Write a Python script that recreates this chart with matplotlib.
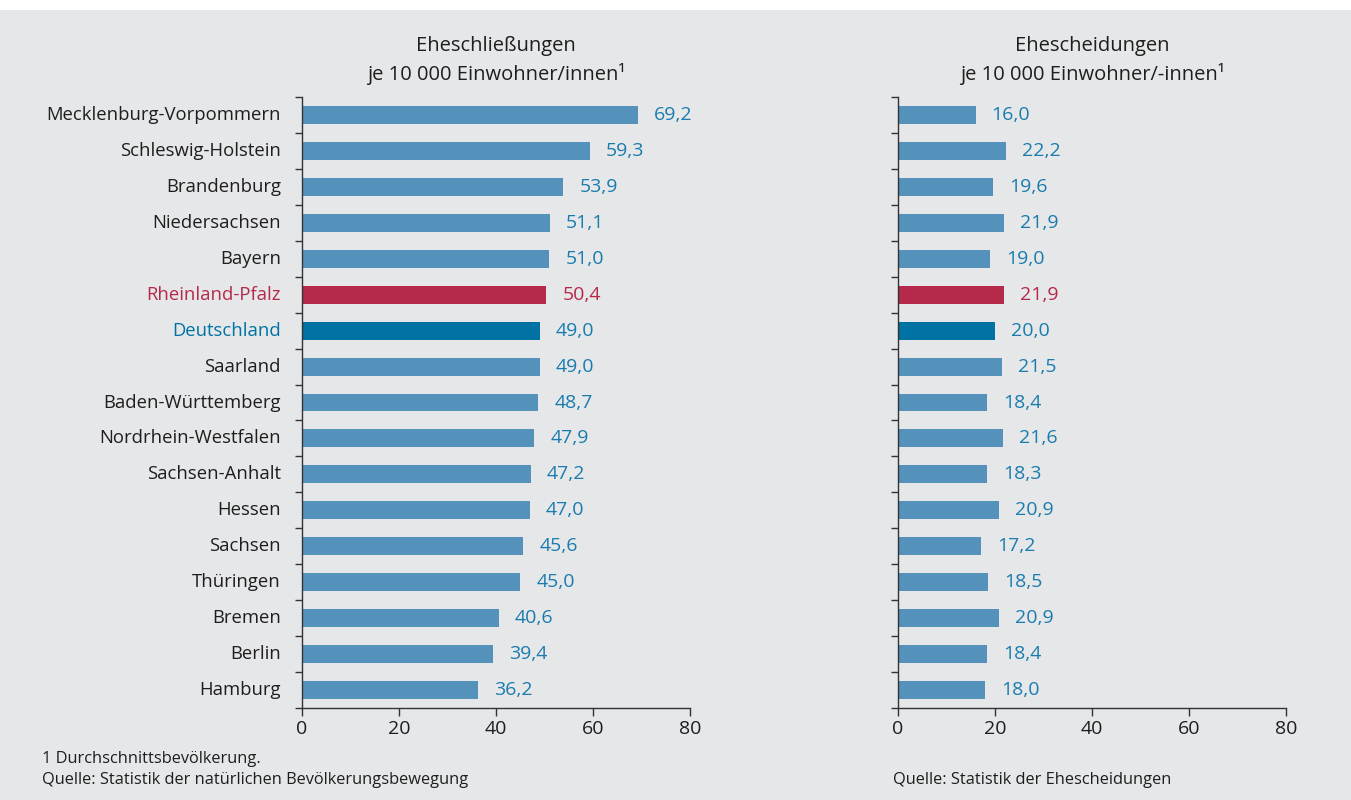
import matplotlib
matplotlib.use("Agg")
import matplotlib.pyplot as plt
from matplotlib.patches import Rectangle
import numpy as np

plt.rcParams['font.family'] = ['Open Sans', 'DejaVu Sans']

categories = ["Mecklenburg-Vorpommern", "Schleswig-Holstein", "Brandenburg", "Niedersachsen",
              "Bayern", "Rheinland-Pfalz", "Deutschland", "Saarland", "Baden-Württemberg",
              "Nordrhein-Westfalen", "Sachsen-Anhalt", "Hessen", "Sachsen", "Thüringen",
              "Bremen", "Berlin", "Hamburg"]
marriages = [69.2, 59.3, 53.9, 51.1, 51.0, 50.4, 49.0, 49.0, 48.7, 47.9, 47.2, 47.0,
             45.6, 45.0, 40.6, 39.4, 36.2]
divorces = [16.0, 22.2, 19.6, 21.9, 19.0, 21.9, 20.0, 21.5, 18.4, 21.6, 18.3, 20.9,
            17.2, 18.5, 20.9, 18.4, 18.0]
xticks = [0, 20, 40, 60, 80]
title_left = "Eheschließungen\nje 10 000 Einwohner/innen¹"
title_right = "Ehescheidungen\nje 10 000 Einwohner/-innen¹"

BG = "#e6e7e9"
BAR = "#5592bb"
RED = "#b5294a"
DE = "#0072a3"
LBL = "#1a7cae"
TXT = "#1e1e1e"

def color_for(c):
    if c == "Rheinland-Pfalz":
        return RED
    if c == "Deutschland":
        return DE
    return BAR

def label_color(c):
    if c == "Rheinland-Pfalz":
        return RED
    return LBL

fig = plt.figure(figsize=(13.51, 8.0), dpi=100, facecolor=BG)
fig.patches.append(Rectangle((0, 1 - 10/800), 1, 10/800, transform=fig.transFigure,
                             facecolor="white", edgecolor="none", zorder=0))

ax_bottom = 1 - 708/800
ax_h = (708 - 97) / 800
axL = fig.add_axes([302/1351, ax_bottom, 388/1351, ax_h])
axR = fig.add_axes([898/1351, ax_bottom, 388/1351, ax_h])

y = np.arange(len(categories))
for ax, vals, title, show_labels in [(axL, marriages, title_left, True),
                                     (axR, divorces, title_right, False)]:
    ax.set_facecolor(BG)
    cols = [color_for(c) for c in categories]
    ax.barh(y, vals, height=0.5, color=cols, zorder=2)
    for yi, v, c in zip(y, vals, categories):
        ax.annotate(f"{v:.1f}".replace(".", ","), xy=(v, yi), xytext=(16, 0),
                    textcoords="offset pixels", va="center", ha="left",
                    fontsize=14, color=label_color(c))
    ax.set_xlim(0, 80)
    ax.set_ylim(len(categories) - 0.5, -0.5)
    ax.set_xticks(xticks)
    ax.set_xticklabels([str(t) for t in xticks], fontsize=14, color=TXT)
    ax.set_yticks(np.arange(-0.5, len(categories), 1.0))
    ax.set_yticklabels([])
    ax.tick_params(axis="y", length=5, width=1, color="#333333", direction="out")
    ax.tick_params(axis="x", length=6, width=1, color="#333333", direction="out", pad=3)
    for s in ["top", "right"]:
        ax.spines[s].set_visible(False)
    for s in ["left", "bottom"]:
        ax.spines[s].set_color("#333333")
        ax.spines[s].set_linewidth(1)
    ax.set_title(title, fontsize=14.5, color=TXT, pad=12, linespacing=1.45)
    if show_labels:
        for yi, c in zip(y, categories):
            col = RED if c == "Rheinland-Pfalz" else (DE if c == "Deutschland" else TXT)
            ax.annotate(c, xy=(0, yi), xycoords=("axes fraction", "data"),
                        xytext=(-21, 0), textcoords="offset pixels",
                        ha="right", va="center", fontsize=13.3, color=col)

fig.text(42/1351, 1 - 759/800, "1 Durchschnittsbevölkerung.", fontsize=11.8, color=TXT,
         ha="left", va="center")
fig.text(42/1351, 1 - 780/800, "Quelle: Statistik der natürlichen Bevölkerungsbewegung",
         fontsize=11.8, color=TXT, ha="left", va="center")
fig.text(893/1351, 1 - 780/800, "Quelle: Statistik der Ehescheidungen", fontsize=11.8,
         color=TXT, ha="left", va="center")

fig.savefig("out.png", dpi=100, facecolor=BG)
